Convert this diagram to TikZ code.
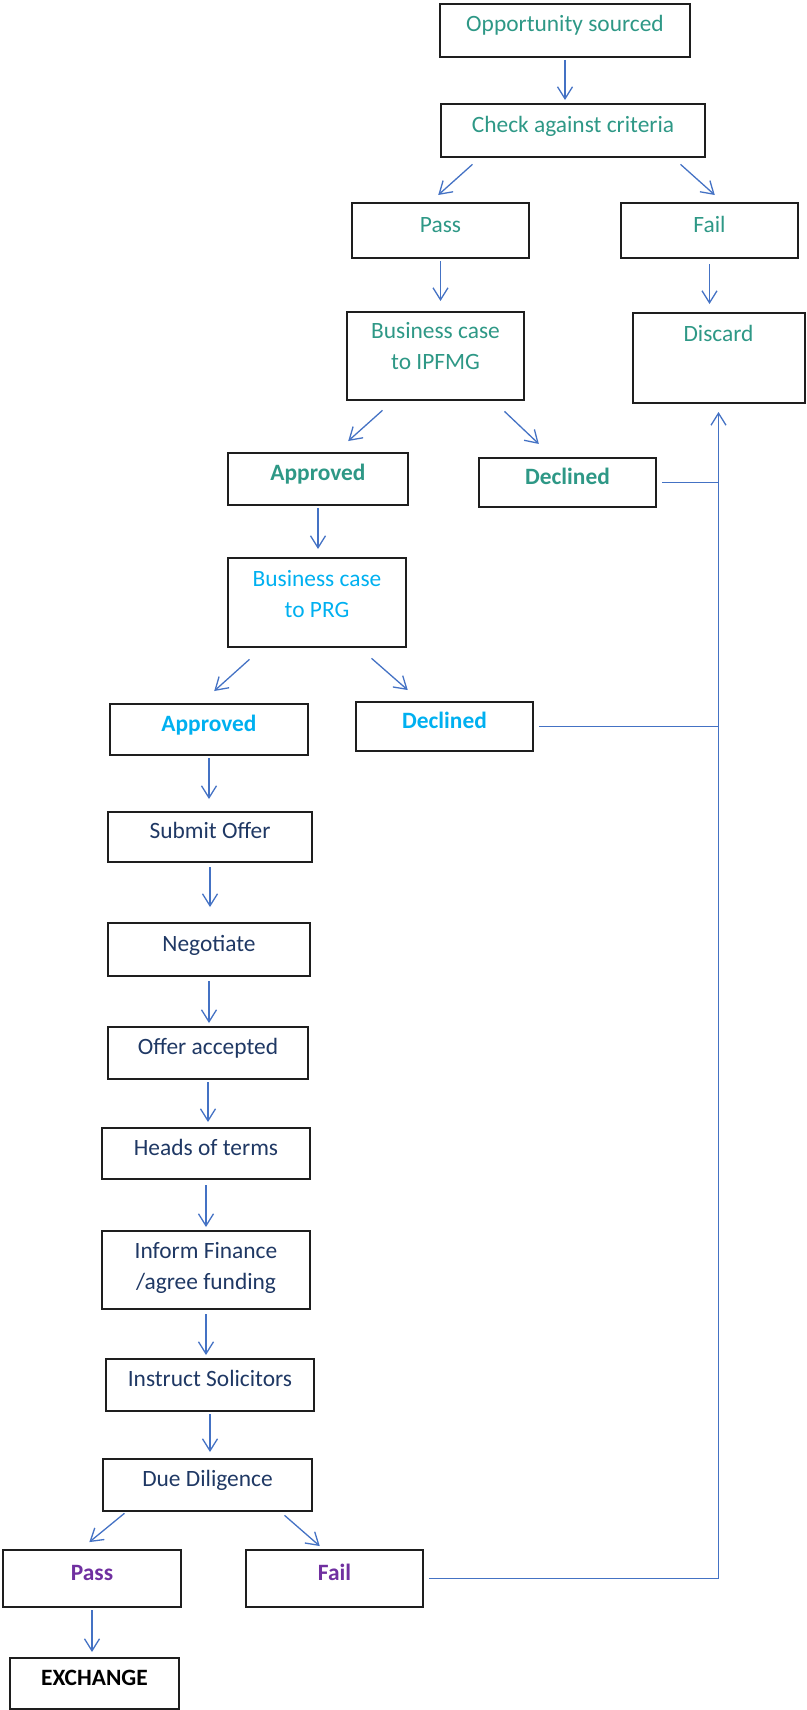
\documentclass[tikz,border=0pt]{standalone}
\usepackage{fontspec}
\setmainfont{Carlito}
\usetikzlibrary{arrows.meta}
\definecolor{flowteal}{RGB}{46,152,134}
\definecolor{flowblue}{RGB}{0,176,240}
\definecolor{flownavy}{RGB}{31,56,100}
\definecolor{flowpurple}{RGB}{112,48,160}
\definecolor{flowarrow}{RGB}{68,114,196}
\definecolor{boxline}{RGB}{30,30,30}
\newcommand\flowfont{\fontsize{23.4}{31}\selectfont}
\begin{document}
\begin{tikzpicture}[x=1pt,y=-1pt,
	every node/.style={draw=boxline,line width=2pt,inner sep=0pt,font=\flowfont,
	text height=16pt,text depth=13pt,align=center},
	boxsize/.style 2 args={minimum width=#1pt,minimum height=#2pt},
	strong/.style={font=\flowfont\bfseries},
	arr/.style={draw=flowarrow,line width=1.3pt,shorten >=3pt,shorten <=2pt,
	-{Straight Barb[length=12pt,width=15pt,line width=1.3pt]}},
	link/.style={draw=flowarrow,line width=1.3pt}]
\useasboundingbox (0,0) rectangle (806,1710);
\node[boxsize={250}{53},text=flowteal] (opp) at (565,30.5) {Opportunity sourced};
\node[boxsize={264}{53},text=flowteal] (check) at (573,130.5) {Check against criteria};
\node[boxsize={177}{55},text=flowteal] (passa) at (440.5,230.5) {Pass};
\node[boxsize={177}{55},text=flowteal] (faila) at (709.5,230.5) {Fail};
\node[boxsize={177}{88},text=flowteal,text height=47pt,text depth=20pt] (ipfmg) at (435.5,356) {Business case\\to IPFMG};
\node[boxsize={172}{90},text=flowteal,text depth=49pt] (discard) at (718.5,358) {Discard};
\node[boxsize={180}{52},text=flowteal,strong] (appra) at (318,479) {Approved};
\node[boxsize={177}{49},text=flowteal,strong] (decla) at (567.5,482.5) {Declined};
\node[boxsize={178}{89},text=flowblue,text height=47pt,text depth=17pt] (prg) at (317,602.5) {Business case\\to PRG};
\node[boxsize={198}{51},text=flowblue,strong] (apprb) at (209,729.5) {Approved};
\node[boxsize={177}{49},text=flowblue,strong] (declb) at (444.5,726.5) {Declined};
\node[boxsize={204}{50},text=flownavy] (submit) at (210,837) {Submit Offer};
\node[boxsize={202}{53},text=flownavy] (negot) at (209,949.5) {Negotiate};
\node[boxsize={200}{52},text=flownavy] (offer) at (208,1053) {Offer accepted};
\node[boxsize={208}{51},text=flownavy] (heads) at (206,1153.5) {Heads of terms};
\node[boxsize={208}{78},text=flownavy,text height=47pt,text depth=8pt] (inform) at (206,1270) {Inform Finance\\/agree funding};
\node[boxsize={208}{52},text=flownavy] (instruct) at (210,1385) {Instruct Solicitors};
\node[boxsize={209}{52},text=flownavy] (dd) at (207.5,1485) {Due Diligence};
\node[boxsize={178}{57},text=flowpurple,strong] (passb) at (92,1578.5) {Pass};
\node[boxsize={177}{57},text=flowpurple,strong] (failb) at (334.5,1578.5) {Fail};
\node[boxsize={169}{51},text=black,strong] (exch) at (94.5,1683.5) {EXCHANGE};

\draw[arr] (opp.south) -- (opp.south |- check.north);
\draw[arr] ([xshift=34pt,yshift=-5pt]check.south west) -- ([xshift=85pt,yshift=5pt]passa.north west);
\draw[arr] ([xshift=-27pt,yshift=-5pt]check.south east) -- ([xshift=97pt,yshift=5pt]faila.north west);
\draw[arr,shorten >=10pt] (passa.south) -- (passa.south |- ipfmg.north);
\draw[arr,shorten <=5pt,shorten >=8pt] (faila.south) -- (faila.south |- discard.north);
\draw[arr] ([xshift=38pt,yshift=-8pt]ipfmg.south west) -- ([xshift=119pt,yshift=9pt]appra.north west);
\draw[arr] ([xshift=-22pt,yshift=-9pt]ipfmg.south east) -- ([xshift=63pt,yshift=11pt]decla.north west);
\draw[arr,shorten >=8pt] (appra.south) -- (appra.south |- prg.north);
\draw[arr] ([xshift=24pt,yshift=-10pt]prg.south west) -- ([xshift=103pt,yshift=10pt]apprb.north west);
\draw[arr] ([xshift=143pt,yshift=-9pt]prg.south west) -- ([xshift=55pt,yshift=9pt]declb.north west);
\draw[arr,shorten >=12pt] (apprb.south) -- (apprb.south |- submit.north);
\draw[arr,shorten <=4pt,shorten >=15pt] (submit.south) -- (submit.south |- negot.north);
\draw[arr,shorten <=4pt] (negot.south) -- (negot.south |- offer.north);
\draw[arr,shorten >=5pt] (offer.south) -- (offer.south |- heads.north);
\draw[arr,shorten <=5pt] (heads.south) -- (heads.south |- inform.north);
\draw[arr,shorten <=4pt] (inform.south) -- (inform.south |- instruct.north);
\draw[arr,shorten >=6pt] (instruct.south) -- (instruct.south |- dd.north);
\draw[arr] ([xshift=24pt]dd.south west) -- ([xshift=85pt,yshift=5pt]passb.north west);
\draw[arr] ([xshift=181pt,yshift=-2pt]dd.south west) -- ([xshift=77pt,yshift=1pt]failb.north west);
\draw[arr,shorten >=5pt] (passb.south) -- (passb.south |- exch.north);

\draw[arr,shorten <=5pt,shorten >=8pt] (failb.east) -| (discard.south);
\draw[link,shorten <=5pt] (decla.east) -- (decla.east -| discard.south);
\draw[link,shorten <=5pt] (declb.east) -- (declb.east -| discard.south);
\end{tikzpicture}
\end{document}
